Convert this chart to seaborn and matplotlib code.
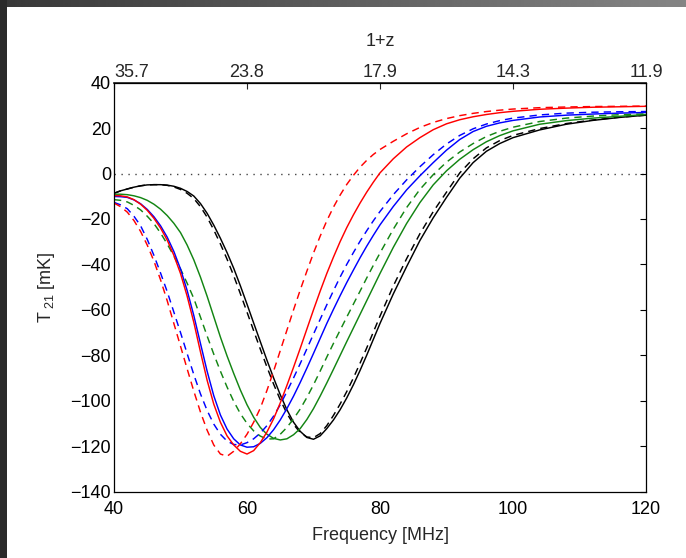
import numpy as np
import pandas as pd
import matplotlib
matplotlib.use("Agg")
import matplotlib.pyplot as plt
import seaborn as sns
from matplotlib.patches import Rectangle

# Frequency grid [MHz]: 1 MHz steps through the absorption trough, coarser above
freq = (list(range(40, 81)) + [82, 84, 86, 88, 90, 92, 94, 96, 98, 100]
        + [104, 108, 112, 116, 120])

# Brightness temperature T21 [mK] for each model (solid / dashed variants)
black_solid = [
    -8.7, -7.6, -6.8, -6.0, -5.4, -5.0, -4.9, -4.9, -5.1, -5.6,
    -6.5, -7.9, -9.9, -13.2, -17.5, -22.7, -28.5, -34.8, -41.7, -49.4,
    -57.5, -65.8, -74.0, -82.2, -90.0, -97.4, -104.0, -109.5, -113.5, -116.2,
    -117.0, -115.5, -112.3, -108.5, -104.0, -98.8, -93.0, -86.7, -80.0, -73.0,
    -66.0,
    -53.0, -41.0, -29.5, -19.5, -10.5, -2.0, 4.8, 9.8, 13.2, 15.8,
    19.2, 21.7, 23.4, 24.7, 25.7]
black_dashed = [
    -8.7, -7.6, -6.8, -6.0, -5.4, -5.0, -4.9, -4.9, -5.2, -5.9,
    -7.0, -8.7, -11.0, -14.6, -19.2, -24.8, -31.0, -37.7, -45.0, -52.9,
    -61.0, -69.2, -77.3, -85.2, -92.7, -99.6, -105.6, -110.5, -114.0, -116.0,
    -116.3, -114.5, -111.0, -106.5, -101.5, -96.0, -90.0, -83.5, -76.8, -69.8,
    -62.8,
    -49.5, -37.5, -26.5, -16.8, -8.2, 0.3, 6.5, 11.3, 14.5, 16.8,
    19.8, 22.0, 23.6, 24.8, 25.7]
red_solid = [
    -9.7, -9.8, -10.3, -11.5, -13.5, -16.2, -19.7, -24.0, -29.3, -36.0,
    -44.0, -54.0, -65.5, -78.5, -91.0, -101.5, -109.5, -115.5, -119.5, -122.3,
    -123.5, -122.0, -118.5, -113.8, -108.0, -101.0, -93.3, -85.3, -77.0, -68.5,
    -60.0, -51.8, -44.0, -36.8, -30.0, -23.8, -18.2, -13.0, -8.2, -3.8,
    0.3,
    6.5, 11.7, 15.8, 19.3, 21.9, 23.7, 25.0, 26.0, 26.8, 27.4,
    28.3, 28.8, 29.2, 29.4, 29.6]
red_dashed = [
    -13.0, -14.6, -17.0, -20.7, -25.5, -31.5, -38.5, -46.8, -56.0, -66.0,
    -76.0, -86.0, -95.8, -105.0, -113.0, -119.5, -123.5, -124.5, -122.3, -119.0,
    -114.8, -109.5, -103.3, -95.5, -87.0, -78.0, -69.0, -60.0, -51.3, -43.0,
    -35.0, -27.6, -20.8, -14.8, -9.5, -4.8, -0.8, 2.8, 5.8, 8.4,
    10.6,
    14.2, 17.5, 20.3, 22.5, 24.2, 25.5, 26.5, 27.3, 27.9, 28.4,
    29.0, 29.3, 29.5, 29.6, 29.7]
blue_solid = [
    -10.1, -10.2, -10.5, -11.6, -13.3, -15.8, -19.0, -23.0, -28.0, -34.3,
    -42.0, -51.5, -62.5, -74.8, -87.0, -97.8, -106.3, -112.5, -116.8, -119.5,
    -120.5, -120.3, -118.8, -116.3, -112.8, -108.5, -103.5, -98.0, -92.0, -85.7,
    -79.2, -72.6, -66.0, -59.8, -53.8, -48.0, -42.5, -37.1, -32.0, -27.2,
    -22.6,
    -14.5, -7.2, -1.0, 4.8, 10.3, 15.0, 18.5, 20.8, 22.3, 23.4,
    24.9, 25.7, 26.2, 26.6, 26.9]
blue_dashed = [
    -12.7, -13.8, -15.5, -18.8, -23.0, -29.0, -36.0, -43.8, -52.0, -61.0,
    -70.0, -79.3, -88.5, -97.0, -104.3, -110.3, -114.8, -117.8, -119.3, -119.5,
    -118.5, -116.8, -114.3, -111.0, -106.8, -101.8, -96.0, -90.0, -83.7, -77.2,
    -70.7, -64.2, -57.8, -51.6, -45.6, -40.0, -34.8, -29.8, -25.2, -20.8,
    -16.7,
    -9.3, -2.8, 3.0, 8.3, 13.0, 16.8, 19.7, 21.8, 23.3, 24.4,
    25.8, 26.6, 27.0, 27.2, 27.3]
green_solid = [
    -9.1, -9.1, -9.3, -9.8, -10.6, -11.8, -13.5, -15.7, -18.5, -21.9,
    -26.0, -31.5, -38.0, -45.6, -54.0, -63.0, -72.0, -80.3, -88.0, -95.3,
    -101.8, -107.3, -111.8, -114.8, -116.6, -117.3, -116.8, -115.0, -112.3, -108.3,
    -103.5, -98.0, -92.2, -86.2, -80.1, -74.0, -68.0, -62.0, -56.0, -50.0,
    -44.0,
    -32.5, -22.0, -12.8, -5.0, 1.2, 6.3, 10.5, 14.0, 16.7, 18.8,
    21.7, 23.3, 24.4, 25.2, 26.0]
green_dashed = [
    -11.5, -11.8, -12.5, -14.0, -16.0, -18.8, -22.0, -26.2, -31.0, -36.3,
    -42.0, -48.3, -55.0, -63.2, -71.5, -79.5, -87.0, -94.0, -100.3, -105.7,
    -110.0, -113.3, -115.6, -116.9, -116.8, -114.8, -111.8, -108.0, -103.7, -98.6,
    -93.0, -87.0, -80.8, -74.8, -69.0, -63.2, -57.5, -51.8, -46.0, -40.4,
    -35.0,
    -24.5, -15.0, -7.0, -0.5, 5.0, 9.5, 13.2, 16.3, 18.6, 20.4,
    22.9, 24.4, 25.3, 25.9, 26.3]

# Top axis: redshift labels at the frequency ticks
top_ticks = [40, 60, 80, 100, 120]
top_labels = ["35.7", "23.8", "17.9", "14.3", "11.9"]

series = {
    ("black", "solid"): black_solid, ("black", "dashed"): black_dashed,
    ("green", "solid"): green_solid, ("green", "dashed"): green_dashed,
    ("blue", "solid"): blue_solid, ("blue", "dashed"): blue_dashed,
    ("red", "solid"): red_solid, ("red", "dashed"): red_dashed,
}
rows = []
for (model, variant), vals in series.items():
    for f, t in zip(freq, vals):
        rows.append({"freq": f, "T21": t, "model": model, "variant": variant})
df = pd.DataFrame(rows)

sns.set_theme(style="white")
plt.rcParams["font.family"] = ["Liberation Sans", "DejaVu Sans"]
plt.rcParams["mathtext.fontset"] = "custom"
plt.rcParams["mathtext.rm"] = "Liberation Sans"

fig = plt.figure(figsize=(6.86, 5.58), dpi=100)
fig.patch.set_facecolor("white")

# window frame strips
bar = fig.add_axes([0, 1 - 7 / 558, 1, 7 / 558])
grad = np.linspace(0.22, 0.52, 256)[None, :]
bar.imshow(grad, aspect="auto", cmap="gray", vmin=0, vmax=1, extent=[0, 1, 0, 1])
bar.set_axis_off()
fig.patches.append(Rectangle((0, 0), 7 / 686, 1, transform=fig.transFigure,
                             facecolor="#2a2a2a", edgecolor="none", zorder=5))

ax = fig.add_axes([114 / 686, 1 - 491.5 / 558, (646 - 114) / 686, (491.5 - 82.7) / 558])

palette = {"black": "#000000", "green": "#138513", "blue": "#0000ff", "red": "#ff0000"}
dashes = {"solid": "", "dashed": (5, 3.5)}
sns.lineplot(data=df, x="freq", y="T21", hue="model", style="variant",
             palette=palette, dashes=dashes, estimator=None, sort=False,
             linewidth=1.05, legend=False, ax=ax)
for ln in ax.get_lines():
    ln.set_solid_joinstyle("round")

ax.axhline(0, color="#444444", linestyle=(0, (1, 4)), linewidth=1.0, zorder=0)

ax.set_xlim(40, 120)
ax.set_ylim(-140, 40)
ax.set_xticks([40, 60, 80, 100, 120])
ax.set_yticks(np.arange(-140, 41, 20))
ax.tick_params(direction="in", length=4, width=0.8, labelsize=13, colors="black",
               right=True, pad=2)
ax.tick_params(axis="x", pad=7)
for sp in ax.spines.values():
    sp.set_color("black")
    sp.set_linewidth(0.9)

ax.set_xlabel("Frequency [MHz]", fontsize=13, labelpad=6)
ax.set_ylabel(r"T$\,_{\mathregular{21}}$ [mK]", fontsize=13, labelpad=10)

top = ax.secondary_xaxis("top")
top.set_xticks(top_ticks)
top.set_xticklabels(top_labels)
top.tick_params(direction="in", length=4, width=0.8, labelsize=13, pad=1)
top.set_xlabel("1+z", fontsize=13, labelpad=13)
# first redshift label sits inside the left edge, clear of the y-axis "40"
top.get_xticklabels()[0].set_horizontalalignment("left")

fig.savefig("out.png", dpi=100, facecolor="white")
